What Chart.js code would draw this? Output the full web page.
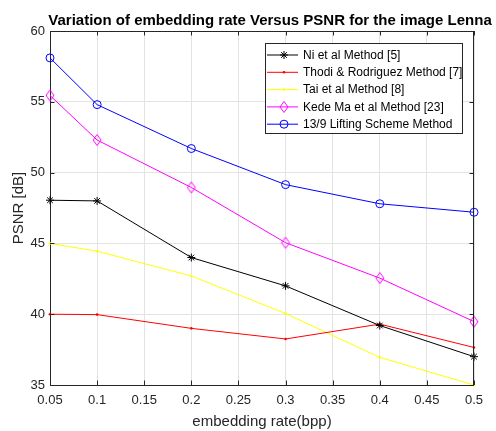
<!DOCTYPE html>
<html>
<head>
<meta charset="utf-8">
<script src="https://cdn.jsdelivr.net/npm/chart.js@4.4.1/dist/chart.umd.min.js"></script>
<style>
html,body{margin:0;padding:0;background:#fff;}
#wrap{width:496px;height:431px;position:relative;}
</style>
</head>
<body>
<div id="wrap"><canvas id="c" width="496" height="431"></canvas></div>
<script>
// ---- data ----
const rates = [0.05, 0.1, 0.2, 0.3, 0.4, 0.5];
const niPSNR = [48.05, 48.0, 44.0, 42.0, 39.2, 37.0];
const thodiPSNR = [40.0, 39.97, 39.0, 38.25, 39.3, 37.65];
const taiPSNR = [45.0, 44.45, 42.7, 40.05, 36.95, 35.0];
const kedePSNR = [55.45, 52.3, 48.95, 45.05, 42.55, 39.48];
const liftingPSNR = [58.1, 54.8, 51.7, 49.15, 47.8, 47.2];
const seriesNames = ['Ni et al Method [5]', 'Thodi & Rodriguez Method [7]', 'Tai et al Method [8]', 'Kede Ma et al Method [23]', '13/9 Lifting Scheme Method'];
const xTicks = [0.05, 0.1, 0.15, 0.2, 0.25, 0.3, 0.35, 0.4, 0.45, 0.5];
const xTickLabels = ['0.05', '0.1', '0.15', '0.2', '0.25', '0.3', '0.35', '0.4', '0.45', '0.5'];
const yTicks = [35, 40, 45, 50, 55, 60];
const yTickLabels = ['35', '40', '45', '50', '55', '60'];
const titleText = 'Variation of embedding rate Versus PSNR for the image Lenna';
const xTitle = 'embedding rate(bpp)';
const yTitle = 'PSNR [dB]';

const FONT = 'Arial, "Liberation Sans", Helvetica, sans-serif';
const AX = '#262626';

function diamondCanvas(color) {
  const c = document.createElement('canvas');
  c.width = 12; c.height = 16;
  const g = c.getContext('2d');
  g.strokeStyle = color; g.lineWidth = 1;
  g.beginPath();
  g.moveTo(6, 2.5); g.lineTo(10, 8); g.lineTo(6, 13.5); g.lineTo(2, 8); g.closePath();
  g.stroke();
  return c;
}
const diamond = diamondCanvas('#ff00ff');

function pts(arr) { return rates.map((x, i) => ({x: x, y: arr[i]})); }

const datasets = [
  {label: seriesNames[0], data: pts(niPSNR), borderColor: '#000000', backgroundColor: '#000000', pointStyle: 'star', pointRadius: 4, pointBorderWidth: 1},
  {label: seriesNames[1], data: pts(thodiPSNR), borderColor: '#ff0000', backgroundColor: '#ff0000', pointStyle: 'circle', pointRadius: 1.3, pointBorderWidth: 0},
  {label: seriesNames[2], data: pts(taiPSNR), borderColor: '#ffff00', backgroundColor: '#ffff00', pointStyle: 'circle', pointRadius: 1.3, pointBorderWidth: 0},
  {label: seriesNames[3], data: pts(kedePSNR), borderColor: '#ff00ff', backgroundColor: 'rgba(0,0,0,0)', pointStyle: diamond, pointRadius: 5, pointBorderWidth: 1},
  {label: seriesNames[4], data: pts(liftingPSNR), borderColor: '#0000ff', backgroundColor: 'rgba(0,0,0,0)', pointStyle: 'circle', pointRadius: 4, pointBorderWidth: 1}
];
datasets.forEach(d => { d.borderWidth = 1; d.tension = 0; d.fill = false; d.clip = false; d.pointHoverRadius = d.pointRadius; });

const framePlugin = {
  id: 'frame',
  afterDraw(chart) {
    const {ctx, chartArea: a, scales} = chart;
    ctx.save();
    // title
    ctx.fillStyle = '#000000';
    ctx.font = 'bold 15px ' + FONT;
    ctx.textAlign = 'center';
    ctx.textBaseline = 'alphabetic';
    ctx.fillText(titleText, 270, 24.5);

    ctx.strokeStyle = AX; ctx.lineWidth = 1;
    ctx.beginPath();
    ctx.moveTo(a.left, a.top + 0.5); ctx.lineTo(a.right, a.top + 0.5);
    ctx.moveTo(a.right - 0.5, a.top); ctx.lineTo(a.right - 0.5, a.bottom);
    const L = 4.5;
    xTicks.forEach(v => {
      const px = Math.round(scales.x.getPixelForValue(v)) + 0.5;
      ctx.moveTo(px, a.bottom); ctx.lineTo(px, a.bottom - L);
      ctx.moveTo(px, a.top); ctx.lineTo(px, a.top + L);
    });
    yTicks.forEach(v => {
      const py = Math.round(scales.y.getPixelForValue(v)) + 0.5;
      ctx.moveTo(a.left, py); ctx.lineTo(a.left + L, py);
      ctx.moveTo(a.right, py); ctx.lineTo(a.right - L, py);
    });
    ctx.stroke();

    // legend box
    const bx = 265.5, by = 43.5, bw = 197, bh = 90;
    ctx.fillStyle = '#ffffff';
    ctx.fillRect(bx, by, bw, bh);
    ctx.font = '12px ' + FONT;
    ctx.textBaseline = 'middle';
    ctx.textAlign = 'left';
    chart.data.datasets.forEach((d, i) => {
      const y = 55 + i * 17.3;
      ctx.strokeStyle = d.borderColor; ctx.lineWidth = 1;
      ctx.beginPath(); ctx.moveTo(267, y); ctx.lineTo(298, y); ctx.stroke();
      ctx.save();
      ctx.fillStyle = d.backgroundColor; ctx.strokeStyle = d.borderColor; ctx.lineWidth = d.pointBorderWidth || 1;
      if (typeof d.pointStyle === 'string') {
        Chart.helpers.drawPoint(ctx, {pointStyle: d.pointStyle, radius: d.pointRadius, rotation: 0, borderWidth: d.pointBorderWidth}, 284, y);
      } else {
        ctx.drawImage(d.pointStyle, 284 - d.pointStyle.width / 2, y - d.pointStyle.height / 2);
      }
      ctx.restore();
      ctx.save();
      ctx.beginPath(); ctx.rect(bx, by, bw, bh); ctx.clip();
      ctx.fillStyle = '#000000';
      ctx.fillText(d.label, 303, y + 0.5);
      ctx.restore();
    });
    ctx.strokeStyle = AX; ctx.lineWidth = 1;
    ctx.strokeRect(bx, by, bw, bh);
    ctx.restore();
  }
};

new Chart(document.getElementById('c'), {
  type: 'line',
  data: {datasets: datasets},
  plugins: [framePlugin],
  options: {
    responsive: false,
    animation: false,
    events: [],
    layout: {padding: {left: 0, right: 22, top: 31, bottom: 0}},
    plugins: {
      legend: {display: false},
      tooltip: {enabled: false},
      title: {display: false}
    },
    scales: {
      x: {
        type: 'linear', min: 0.05, max: 0.5,
        afterBuildTicks: s => { s.ticks = xTicks.map(v => ({value: v})); },
        afterFit: s => { s.height = 46; },
        ticks: {color: AX, font: {family: FONT, size: 13}, padding: 8, maxRotation: 0, autoSkip: false,
          callback: (v, i) => xTickLabels[i]},
        grid: {color: '#e3e3e3', lineWidth: 1, drawTicks: false},
        border: {color: AX, width: 1},
        title: {display: true, text: xTitle, color: AX, font: {family: FONT, size: 15}, padding: {top: 2, bottom: 0}}
      },
      y: {
        type: 'linear', min: 35, max: 60,
        afterBuildTicks: s => { s.ticks = yTicks.map(v => ({value: v})); },
        afterFit: s => { s.width = 50; },
        ticks: {color: AX, font: {family: FONT, size: 13}, padding: 5,
          callback: (v, i) => yTickLabels[i]},
        grid: {color: '#e3e3e3', lineWidth: 1, drawTicks: false},
        border: {color: AX, width: 1},
        title: {display: true, text: yTitle, color: AX, font: {family: FONT, size: 15}, padding: {top: 10, bottom: 0}}
      }
    }
  }
});
</script>
</body>
</html>
